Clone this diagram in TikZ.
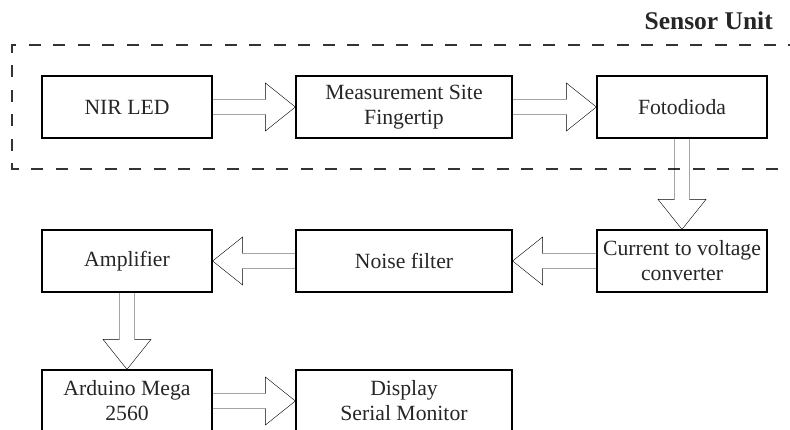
\documentclass[tikz,border=0pt]{standalone}
\usepackage{fontspec}
\setmainfont{Liberation Serif}
\usetikzlibrary{calc}
\tikzset{
  blk/.style={draw=black, line width=1.2pt, minimum height=62pt, inner sep=0pt,
    align=center, text=black!85, font=\fontsize{21.7}{25}\selectfont},
  narrowblk/.style={blk, minimum width=170pt},
  wideblk/.style={blk, minimum width=216pt},
  fatarrow/.style={draw=black, line width=1.5pt, line join=miter, to path={
    ($(\tikztostart)!7.5pt!90:(\tikztotarget)$)
    -- ($($(\tikztotarget)!30pt!(\tikztostart)$)!7.5pt!90:(\tikztotarget)$)
    -- ($($(\tikztotarget)!30pt!(\tikztostart)$)!24pt!90:(\tikztotarget)$)
    -- (\tikztotarget)
    -- ($($(\tikztotarget)!30pt!(\tikztostart)$)!24pt!-90:(\tikztotarget)$)
    -- ($($(\tikztotarget)!30pt!(\tikztostart)$)!7.5pt!-90:(\tikztotarget)$)
    -- ($(\tikztostart)!7.5pt!-90:(\tikztotarget)$)
    -- cycle}},
  grouprect/.style={draw=black!80, line width=1.3pt, dash pattern=on 12pt off 12.5pt}
}
\begin{document}
\begin{tikzpicture}[x=1pt,y=-1pt]
\clip (0,0) rectangle (790,430);
\fill[white] (0,0) rectangle (790,430);
% sensor unit group
\draw[grouprect] (800,45) -- (12,45) -- (12,169) -- (800,169);
\node[anchor=base east, inner sep=0pt, text=black!85, font=\fontsize{25.5}{28}\selectfont\bfseries] (title) at (773,30) {Sensor Unit};
% blocks
\node[narrowblk] (nir) at (127,107) {NIR LED};
\node[wideblk] (meas) at (404,107) {Measurement Site\\Fingertip};
\node[narrowblk] (foto) at (682,107) {Fotodioda};
\node[narrowblk] (cur) at (682,261) {Current to voltage\\converter};
\node[wideblk] (noise) at (404,261) {Noise filter};
\node[narrowblk] (amp) at (127,261) {Amplifier};
\node[narrowblk] (ard) at (127,401) {Arduino Mega\\2560};
\node[wideblk] (disp) at (404,401) {Display\\Serial Monitor};
% arrows
\draw (nir.east) to[fatarrow] (meas.west);
\draw (meas.east) to[fatarrow] (foto.west);
\draw (foto.south) to[fatarrow] (cur.north);
\draw (cur.west) to[fatarrow] (noise.east);
\draw (noise.west) to[fatarrow] (amp.east);
\draw (amp.south) to[fatarrow] (ard.north);
\draw (ard.east) to[fatarrow] (disp.west);
\end{tikzpicture}
\end{document}
